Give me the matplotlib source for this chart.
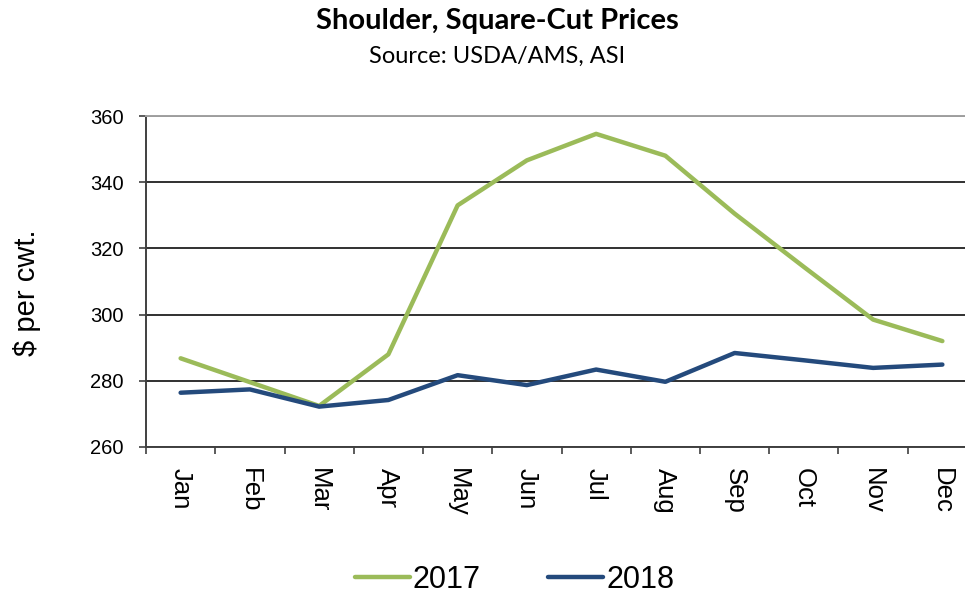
import numpy as np
from matplotlib import pyplot as plt
from matplotlib.ticker import FixedLocator

months = ['Jan', 'Feb', 'Mar', 'Apr', 'May', 'Jun', 'Jul', 'Aug', 'Sep', 'Oct', 'Nov', 'Dec']
prices_2017 = [286.8, 279.6, 272.4, 288.0, 333.0, 346.6, 354.6, 348.0, 330.5, 314.4, 298.5, 292.0]
prices_2018 = [276.4, 277.4, 272.2, 274.2, 281.7, 278.7, 283.4, 279.7, 288.4, 286.2, 283.9, 284.9]
y_ticks = [260, 280, 300, 320, 340, 360]

green = '#9BBB59'
blue = '#244A7C'

fig = plt.figure(figsize=(9.65, 5.94), dpi=100)
ax = fig.add_axes([146 / 965, 147 / 594, 831 / 965, 331 / 594])

x = np.arange(len(months))
ax.plot(x, prices_2017, color=green, linewidth=3.2, label='2017', solid_capstyle='round', zorder=3)
ax.plot(x, prices_2018, color=blue, linewidth=3.2, label='2018', solid_capstyle='round', zorder=4)

ax.set_xlim(-0.5, len(months) - 0.5)
ax.set_ylim(260, 360)
ax.set_yticks(y_ticks)
ax.set_yticklabels([str(v) for v in y_ticks], fontsize=14.5, family='Liberation Sans')
ax.set_xticks(x)
ax.set_xticklabels(months, rotation=-90, fontsize=18.5, family='Liberation Sans', va='top')
ax.xaxis.set_minor_locator(FixedLocator(np.arange(-0.5, len(months) + 0.5, 1)))
ax.tick_params(axis='x', which='major', length=0, pad=15)
ax.tick_params(axis='x', which='minor', length=5, width=1.2, color='#404040', direction='out')
ax.tick_params(axis='y', which='major', length=5, width=1.2, color='#404040', pad=11)

ax.grid(axis='y', color='#202020', linewidth=1.3, zorder=1)
ax.set_axisbelow(True)
for side in ['left', 'bottom']:
    ax.spines[side].set_color('#404040')
    ax.spines[side].set_linewidth(1.4)
ax.spines['top'].set_color('#A0A0A0')
ax.spines['top'].set_linewidth(1.4)
ax.spines['right'].set_visible(False)

# y label sits a little below the axis centre in the original
fig.text(27 / 965, 1 - 293 / 594, '$ per cwt.', rotation=90, ha='center', va='center',
         fontsize=21, family='Liberation Sans')

fig.text(0.515, 0.964, 'Shoulder, Square-Cut Prices', ha='center', va='center',
         fontsize=21, fontweight='bold', family='Lato')
fig.text(0.515, 0.905, 'Source: USDA/AMS, ASI', ha='center', va='center',
         fontsize=17, family='Lato')

leg = fig.legend(loc='center', bbox_to_anchor=(0.533, 0.024), ncol=2, frameon=False,
                 prop={'family': 'Liberation Sans', 'size': 22}, handlelength=1.8,
                 handletextpad=0.1, columnspacing=2.2)

plt.savefig('out.png', dpi=100)
plt.close()
